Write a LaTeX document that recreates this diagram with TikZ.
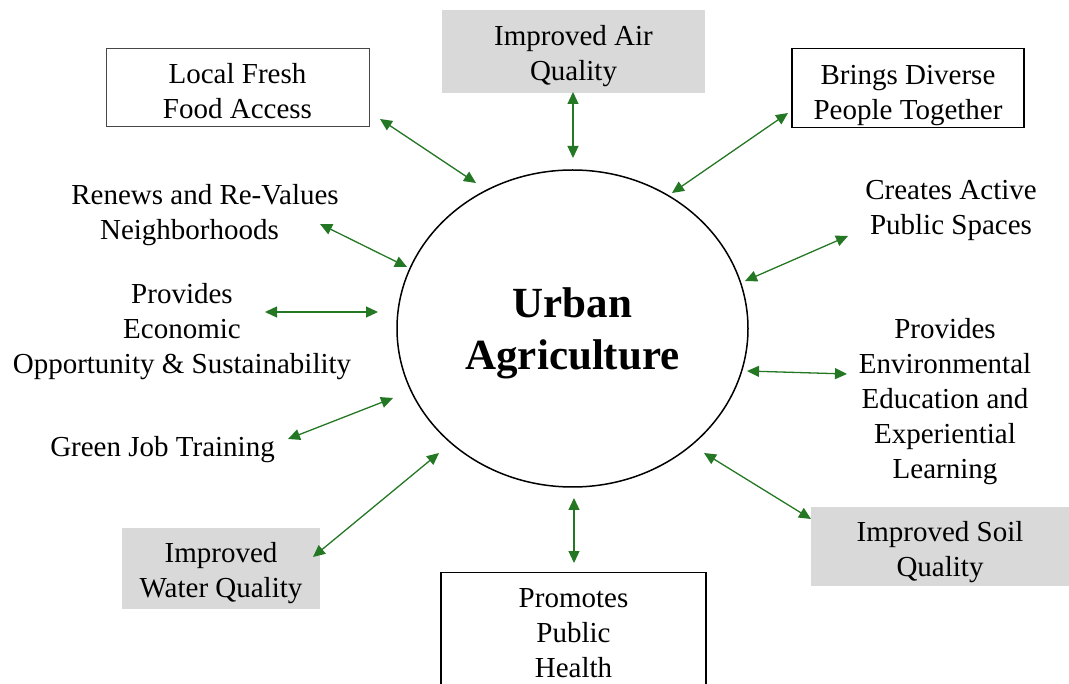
\documentclass[tikz,border=0pt]{standalone}
\usepackage{fontspec}
\setmainfont{Liberation Serif}
\usetikzlibrary{arrows.meta,shapes.geometric}
\definecolor{arrgreen}{RGB}{36,120,36}
\definecolor{boxgray}{RGB}{217,217,217}
\definecolor{lightframe}{RGB}{70,70,70}
\newcommand\toph[1]{\rule{0pt}{#1pt}}
\newcommand\botd[1]{\rule[-#1pt]{0pt}{#1pt}}
\begin{document}
\begin{tikzpicture}[x=1pt,y=-1pt,
  lbl/.style={font=\fontsize{29}{35}\selectfont, align=center, inner sep=0pt},
  txt/.style={lbl, anchor=north},
  boxnode/.style={lbl, anchor=north, inner xsep=0pt},
  wbox/.style={boxnode, draw=black, line width=1.4pt, fill=white},
  lbox/.style={boxnode, draw=lightframe, line width=1pt, fill=white},
  gbox/.style={boxnode, fill=boxgray},
  hub/.style={draw=black, line width=1.5pt, ellipse, inner sep=0pt,
    minimum width=351pt, minimum height=317pt, align=center,
    font=\bfseries\fontsize{43}{52}\selectfont},
  link/.style={draw=arrgreen, line width=1.3pt,
    {Triangle[length=12pt,width=11pt]}-{Triangle[length=12pt,width=11pt]}}
]
\useasboundingbox (0,0) rectangle (1069,684);
\clip (0,0) rectangle (1069,684);

% hub
\node[hub] (ua) at (572.5,328.5) {\toph{40.5}Urban\\Agriculture\botd{9.5}};

% boxes
\node[lbox, minimum width=263pt] (lf) at (237.5,48)
  {\toph{35.3}Local Fresh\\Food Access\botd{7.7}};
\node[gbox, minimum width=263pt] (air) at (573.5,10)
  {\toph{35}Improved Air\\Quality\botd{13}};
\node[wbox, minimum width=232pt] (br) at (908,48)
  {\toph{35.5}Brings Diverse\\People Together\botd{8.5}};
\node[wbox, minimum width=265pt] (ph) at (573.5,572)
  {\toph{34.7}Promotes\\Public\\Health\botd{30}};
\node[gbox, minimum width=198pt] (wq) at (221,528)
  {\toph{34}Improved\\Water Quality\botd{12}};
\node[gbox, minimum width=258pt] (sq) at (940,507)
  {\toph{34.7}Improved Soil\\Quality\botd{9.3}};

% free texts
\node[txt] (rn) at (205,176) {\toph{28}Renews and Re-Values\\Neighborhoods\hspace*{31pt}};
\node[txt] (ec) at (182,275.5) {\toph{28}Provides\\Economic\\Opportunity \& Sustainability};
\node[txt] (gj) at (162.5,428) {\toph{28}Green Job Training};
\node[txt] (cr) at (951,171) {\toph{28}Creates Active\\Public Spaces};
\node[txt] (en) at (945,310.5) {\toph{28}Provides\\Environmental\\Education and\\Experiential\\Learning};

% connector ends
\coordinate (lf-e) at (380,119);  \coordinate (lf-h) at (476,183);
\coordinate (air-e) at (573,92);  \coordinate (air-h) at (573,158);
\coordinate (br-e) at (788,113);  \coordinate (br-h) at (672,193);
\coordinate (rn-e) at (320,224);  \coordinate (rn-h) at (407,267);
\coordinate (ec-e) at (265,312);  \coordinate (ec-h) at (378,312);
\coordinate (gj-e) at (288,439);  \coordinate (gj-h) at (393,398);
\coordinate (cr-e) at (848,236);  \coordinate (cr-h) at (745,281);
\coordinate (en-e) at (847,374);  \coordinate (en-h) at (747,371);
\coordinate (wq-e) at (313,557);  \coordinate (wq-h) at (439,453);
\coordinate (sq-e) at (811,519);  \coordinate (sq-h) at (704,453);
\coordinate (ph-e) at (574,563);  \coordinate (ph-h) at (574,498);

\foreach \n in {lf,air,br,rn,ec,gj,cr,en,wq,sq,ph}
  \draw[link] (\n-e) -- (\n-h);
\end{tikzpicture}
\end{document}
